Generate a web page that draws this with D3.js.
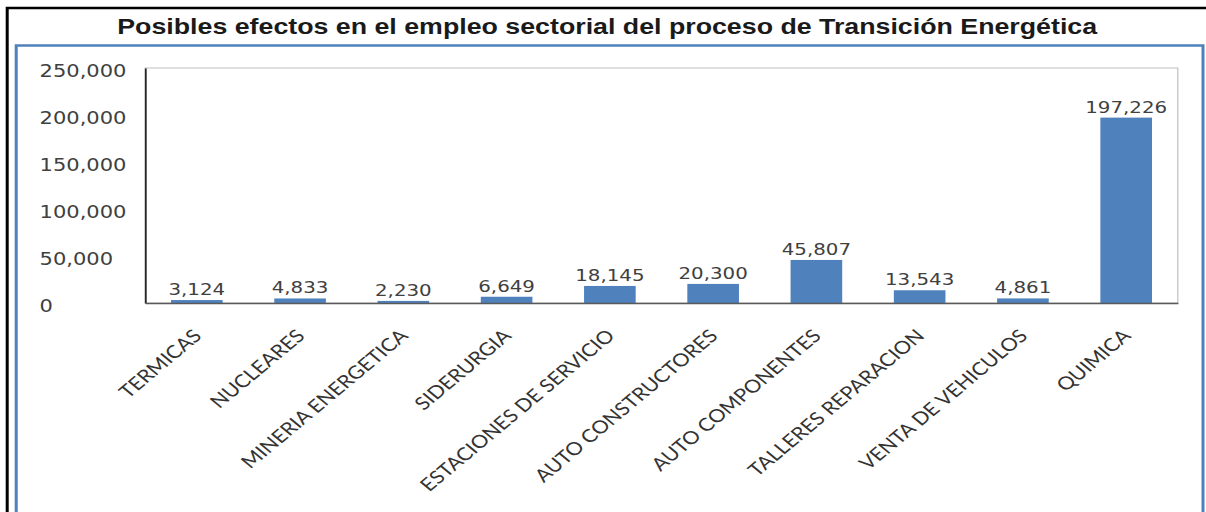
<!DOCTYPE html>
<html>
<head>
<meta charset="utf-8">
<title>Empleo sectorial</title>
<script src="https://d3js.org/d3.v7.min.js"></script>
<style>
  body { margin: 0; background: #fff; }
  svg { display: block; }
</style>
</head>
<body>
<div id="chart"></div>
<script>
// chart values
var categories = ["TERMICAS", "NUCLEARES", "MINERIA ENERGETICA", "SIDERURGIA", "ESTACIONES DE SERVICIO",
  "AUTO CONSTRUCTORES", "AUTO COMPONENTES", "TALLERES REPARACION", "VENTA DE VEHICULOS", "QUIMICA"];
var values = [3124, 4833, 2230, 6649, 18145, 20300, 45807, 13543, 4861, 197226];
var yTicks = [0, 50000, 100000, 150000, 200000, 250000];
var title = "Posibles efectos en el empleo sectorial del proceso de Transición Energética";

// the picture is a horizontally stretched copy, so draw in a narrower box and stretch it
var sx = 1.2;
var W = 1206 / sx, H = 512;

var svg = d3.select("#chart").append("svg")
  .attr("width", 1206)
  .attr("height", H)
  .attr("viewBox", "0 0 " + W + " " + H)
  .attr("preserveAspectRatio", "none");

// outer black frame
svg.append("path")
  .attr("d", "M6," + H + "V8H" + W)
  .attr("fill", "none")
  .attr("stroke", "#000")
  .attr("stroke-width", 2.5);

// blue frame
svg.append("rect")
  .attr("x", 13.5).attr("y", 45.5)
  .attr("width", 1002.5 - 13.5).attr("height", H)
  .attr("fill", "none")
  .attr("stroke", "#4f81bd")
  .attr("stroke-width", 2.5);

svg.append("text")
  .attr("x", 506).attr("y", 34)
  .attr("text-anchor", "middle")
  .style("font-family", "'Liberation Sans', Arial, sans-serif")
  .style("font-weight", "bold")
  .style("font-size", "22.3px")
  .style("fill", "#1a1a1a")
  .text(title);

var margin = { left: 121, right: W - 981.5, top: 68, bottom: H - 303 };
var width = W - margin.left - margin.right,
    height = H - margin.top - margin.bottom;

var g = svg.append("g").attr("transform", "translate(" + margin.left + "," + margin.top + ")");

var x = d3.scaleBand().domain(categories).range([0, width]).paddingInner(0.5).paddingOuter(0.25);
var y = d3.scaleLinear().domain([0, 250000]).range([height, 0]);

// plot area border
g.append("rect")
  .attr("width", width).attr("height", height)
  .attr("fill", "none")
  .attr("stroke", "#bfbfbf")
  .attr("stroke-width", 1);

g.selectAll(".bar")
  .data(values)
  .join("rect")
  .attr("class", "bar")
  .attr("x", function(d, i) { return x(categories[i]); })
  .attr("y", function(d) { return y(d); })
  .attr("width", x.bandwidth())
  .attr("height", function(d) { return height - y(d); })
  .attr("fill", "#4f81bd");

g.selectAll(".val")
  .data(values)
  .join("text")
  .attr("class", "val")
  .attr("x", function(d, i) { return x(categories[i]) + x.bandwidth() / 2; })
  .attr("y", function(d) { return y(d) - 5; })
  .attr("text-anchor", "middle")
  .style("font-family", "'DejaVu Sans', Verdana, sans-serif")
  .style("font-size", "16.5px")
  .style("fill", "#404040")
  .text(d3.format(","));

// y axis
var yAxis = g.append("g")
  .call(d3.axisLeft(y).tickValues(yTicks).tickSize(0).tickFormat(d3.format(",")));
yAxis.select(".domain").attr("stroke", "#262626").attr("stroke-width", 1.5);
yAxis.selectAll("text")
  .attr("text-anchor", "start")
  .attr("x", 33 - margin.left)
  .attr("dy", "0.5em")
  .style("font-family", "'DejaVu Sans', Verdana, sans-serif")
  .style("font-size", "17.5px")
  .style("fill", "#404040");

// x axis
var xAxis = g.append("g")
  .attr("transform", "translate(0," + height + ")")
  .call(d3.axisBottom(x).tickSize(0));
xAxis.select(".domain").attr("stroke", "#595959").attr("stroke-width", 1.5);
xAxis.selectAll("text")
  .attr("text-anchor", "end")
  .attr("dy", null)
  .attr("y", 0)
  .attr("transform", "translate(5,34) rotate(-45)")
  .style("font-family", "Lato, 'Open Sans', sans-serif")
  .style("font-size", "18px")
  .style("fill", "#333");
</script>
</body>
</html>
